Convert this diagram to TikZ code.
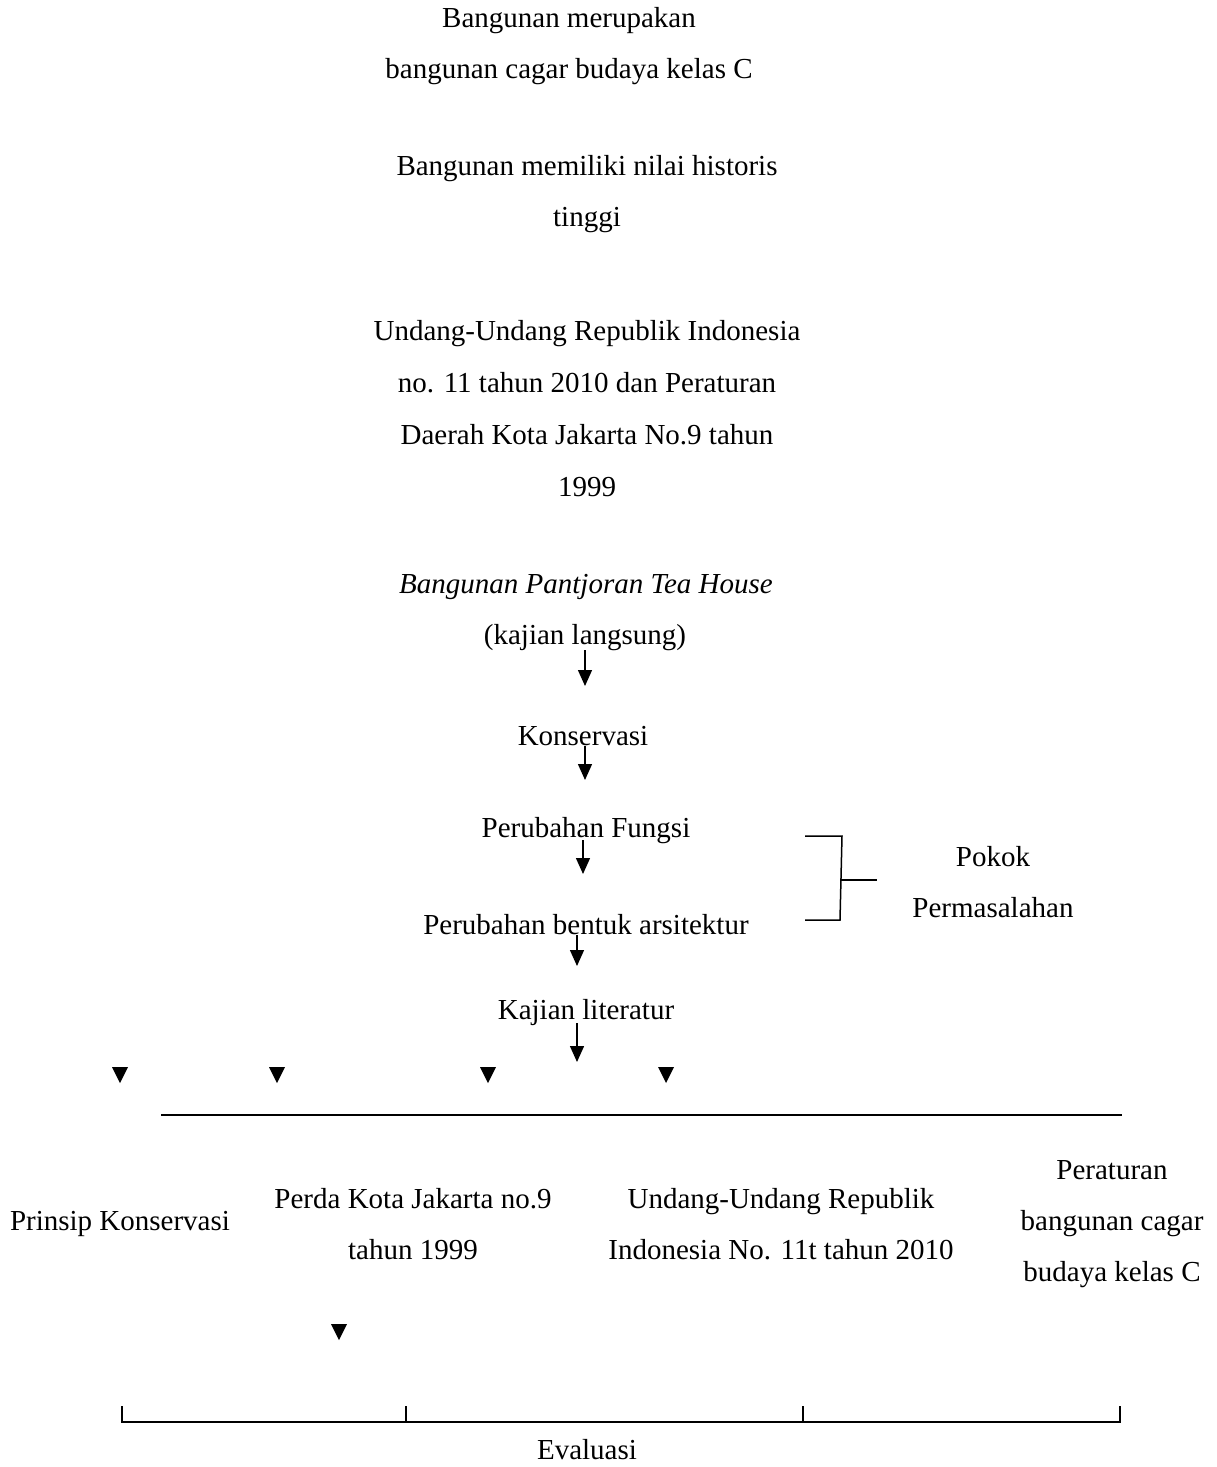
\documentclass[tikz,border=0pt]{standalone}
\usepackage{fontspec}
\setmainfont{Liberation Serif}
\usetikzlibrary{arrows.meta}
\begin{document}
\begin{tikzpicture}[x=1pt,y=-1pt,
  txt/.style={inner sep=0pt,align=center,font=\fontsize{29}{51}\selectfont},
  arr/.style={line width=1.4pt,-{Triangle[length=16pt,width=14pt]}},
  ln/.style={line width=1.5pt},
  tri/.pic={\fill (-8,-8) -- (8,-8) -- (0,8) -- cycle;}]
\useasboundingbox (0,0) rectangle (1217,1467);
\node[txt] (n1) at (569,46) {Bangunan merupakan\\bangunan cagar budaya kelas C};
\node[txt] (n2) at (587,194) {Bangunan memiliki nilai historis\\tinggi};
\node[txt,font=\fontsize{29}{52}\selectfont] (n3) at (587,409) {Undang-Undang Republik Indonesia\\no. 11 tahun 2010 dan Peraturan\\Daerah Kota Jakarta No.9 tahun\\1999};
\node[txt] (n4) at (586,587) {\itshape Bangunan Pantjoran Tea House};
\node[txt] (n5) at (585,638) {(kajian langsung)};
\node[txt] (n6) at (583,736) {Konservasi};
\node[txt] (n7) at (586,831) {Perubahan Fungsi};
\node[txt] (n8) at (586,925) {Perubahan bentuk arsitektur};
\node[txt] (n9) at (586,1013) {Kajian literatur};
\coordinate (a1s) at (585,650); \coordinate (a1e) at (585,686);
\coordinate (a2s) at (585,746); \coordinate (a2e) at (585,780);
\coordinate (a3s) at (583,840); \coordinate (a3e) at (583,874);
\coordinate (a4s) at (577,935); \coordinate (a4e) at (577,966);
\coordinate (a5s) at (577,1023); \coordinate (a5e) at (577,1062);
\draw[arr] (a1s) -- (a1e);
\draw[arr] (a2s) -- (a2e);
\draw[arr] (a3s) -- (a3e);
\draw[arr] (a4s) -- (a4e);
\draw[arr] (a5s) -- (a5e);
% Pokok permasalahan bracket
\coordinate (b1) at (805,836); \coordinate (b2) at (842,836);
\coordinate (b3) at (840,920); \coordinate (b4) at (805,920);
\coordinate (b5) at (841,880); \coordinate (b6) at (877,880);
\draw[ln] (b1) -- (b2) -- (b3) -- (b4);
\draw[ln] (b5) -- (b6);
\node[txt] (pk) at (993,882) {Pokok\\Permasalahan};
% small triangles
\pic at (120,1075) {tri};
\pic at (277,1075) {tri};
\pic at (488,1075) {tri};
\pic at (666,1075) {tri};
\coordinate (h1) at (161,1115); \coordinate (h2) at (1122,1115);
\draw[ln] (h1) -- (h2);
\node[txt] (c1) at (120,1224) {Prinsip Konservasi};
\node[txt] (c2) at (413,1224) {Perda Kota Jakarta no.9\\tahun 1999};
\node[txt] (c3) at (781,1224) {Undang-Undang Republik\\Indonesia No. 11t tahun 2010};
\node[txt] (c4) at (1112,1224) {Peraturan\\bangunan cagar\\budaya kelas C};
\pic at (339,1332) {tri};
% evaluasi bracket
\coordinate (e1) at (122,1406); \coordinate (e2) at (122,1422);
\coordinate (e3) at (1120,1422); \coordinate (e4) at (1120,1406);
\coordinate (e5) at (406,1406); \coordinate (e6) at (406,1422);
\coordinate (e7) at (803,1406); \coordinate (e8) at (803,1422);
\draw[ln] (e1) -- (e2) -- (e3) -- (e4);
\draw[ln] (e5) -- (e6);
\draw[ln] (e7) -- (e8);
\node[txt] (ev) at (587,1450) {Evaluasi};
\end{tikzpicture}
\end{document}
